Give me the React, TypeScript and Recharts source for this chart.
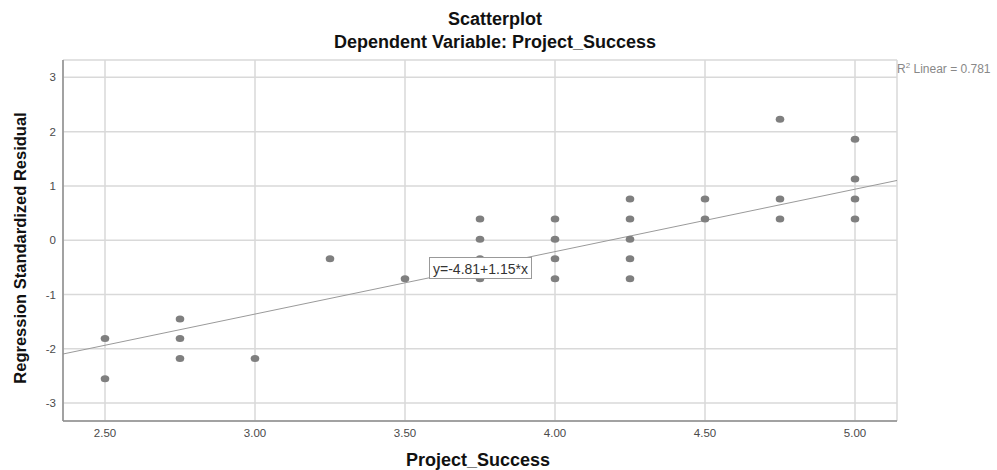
import React from 'react';
import { ScatterChart, Scatter, XAxis, YAxis, CartesianGrid, ReferenceLine } from 'recharts';

// Observed values
const projectSuccess = [
  2.5, 2.5,
  2.75, 2.75, 2.75,
  3.0,
  3.25,
  3.5,
  3.75, 3.75, 3.75, 3.75,
  4.0, 4.0, 4.0, 4.0,
  4.25, 4.25, 4.25, 4.25, 4.25,
  4.5, 4.5,
  4.75, 4.75, 4.75,
  5.0, 5.0, 5.0, 5.0,
];
const stdResidual = [
  -1.81, -2.55,
  -1.45, -1.81, -2.18,
  -2.18,
  -0.34,
  -0.71,
  0.39, 0.02, -0.34, -0.71,
  0.39, 0.02, -0.34, -0.71,
  0.76, 0.39, 0.02, -0.34, -0.71,
  0.76, 0.39,
  2.23, 0.76, 0.39,
  1.86, 1.13, 0.76, 0.39,
];

const xTicks = [2.5, 3.0, 3.5, 4.0, 4.5, 5.0];
const yTicks = [-3, -2, -1, 0, 1, 2, 3];
const xDomain = [2.36, 5.14];
const yDomain = [-3.33, 3.32];

const intercept = -4.81;
const slope = 1.15;
const rSquared = 0.781;

const data = projectSuccess.map((x, i) => ({ x, y: stdResidual[i] }));

const FONT = 'Liberation Sans, Arial, sans-serif';

const Dot = (props: any) => {
  const { cx, cy } = props;
  if (cx == null || cy == null) return null;
  return <ellipse cx={cx} cy={cy} rx={4.3} ry={3.5} fill="#7f7f7f" />;
};

export default function App() {
  const fitStart = { x: xDomain[0], y: intercept + slope * xDomain[0] };
  const fitEnd = { x: xDomain[1], y: intercept + slope * xDomain[1] };
  return (
    <div style={{ position: 'absolute', left: 0, top: 0, width: 997, height: 470, background: '#fff', fontFamily: FONT }}>
      <ScatterChart
        width={997}
        height={470}
        margin={{ top: 60, right: 100, bottom: 0, left: 13 }}
      >
        <CartesianGrid stroke="#d9d9d9" strokeWidth={1.5} />
        <XAxis
          type="number"
          dataKey="x"
          domain={xDomain}
          ticks={xTicks}
          allowDataOverflow
          height={49}
          tickLine={false}
          tickSize={0}
          tickMargin={8}
          axisLine={{ stroke: '#8c8c8c', strokeWidth: 1.5 }}
          tickFormatter={(v: number) => v.toFixed(2)}
          tick={{ fill: '#4a4a4a', fontSize: 11.5, fontFamily: FONT }}
        />
        <YAxis
          type="number"
          dataKey="y"
          domain={yDomain}
          ticks={yTicks}
          allowDataOverflow
          width={50}
          tickLine={false}
          tickSize={0}
          tickMargin={7}
          axisLine={{ stroke: '#8c8c8c', strokeWidth: 1.5 }}
          tick={{ fill: '#4a4a4a', fontSize: 11.5, fontFamily: FONT }}
        />
        <Scatter data={data} shape={<Dot />} isAnimationActive={false} />
        <ReferenceLine segment={[fitStart, fitEnd]} stroke="#9a9a9a" strokeWidth={1} />
      </ScatterChart>
      <svg
        width={997}
        height={470}
        style={{ position: 'absolute', left: 0, top: 0, pointerEvents: 'none' }}
      >
        <text x={495} y={25} textAnchor="middle" fontFamily={FONT} fontWeight="bold" fontSize={18} fill="#111">
          Scatterplot
        </text>
        <text x={495} y={48} textAnchor="middle" fontFamily={FONT} fontWeight="bold" fontSize={18} fill="#111">
          Dependent Variable: Project_Success
        </text>
        <text x={478} y={466} textAnchor="middle" fontFamily={FONT} fontWeight="bold" fontSize={18} fill="#111">
          Project_Success
        </text>
        <text
          x={0}
          y={0}
          transform="translate(25.5,248) rotate(-90)"
          textAnchor="middle"
          fontFamily={FONT}
          fontWeight="bold"
          fontSize={16.5}
          fill="#111"
        >
          Regression Standardized Residual
        </text>
        <text x={897} y={73} fontFamily={FONT} fontSize={12} fill="#888">
          R<tspan fontSize={8} dy={-5}>2</tspan>
          <tspan dy={5}> Linear = {rSquared.toFixed(3)}</tspan>
        </text>
        <rect x={429.5} y={257.5} width={102} height={21} fill="#fff" stroke="#999" strokeWidth={1} />
        <text x={480.5} y={274} textAnchor="middle" fontFamily={FONT} fontSize={14} fill="#333">
          {`y=${intercept.toFixed(2)}+${slope.toFixed(2)}*x`}
        </text>
      </svg>
    </div>
  );
}
